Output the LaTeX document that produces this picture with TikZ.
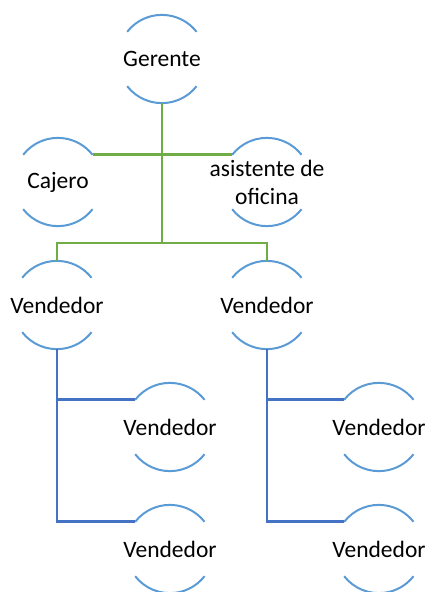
\documentclass[tikz,border=0pt]{standalone}
\usepackage{fontspec}
\setmainfont{Carlito}
\definecolor{arcblue}{HTML}{5B9BD5}
\definecolor{linegreen}{HTML}{70AD47}
\definecolor{lineblue}{HTML}{4472C4}
\tikzset{
  puesto/.style={circle, minimum size=88pt, inner sep=0pt,
    label={[font=\fontsize{23.5}{28}\selectfont, align=center]center:#1}},
  arco/.style={draw=arcblue, line width=2pt},
  verde/.style={draw=linegreen, line width=2.8pt},
  azul/.style={draw=lineblue, line width=2.6pt}}
\begin{document}
\begin{tikzpicture}[x=1pt, y=1pt]
  \useasboundingbox (0,0) rectangle (430,-592);
  % first level
  \node[puesto=Gerente] (ger) at (162,-59) {};
  \node[puesto=Cajero] (caj) at (58,-182) {};
  \node[puesto={asistente de\\oficina}] (asi) at (267,-182) {};
  \node[puesto=Vendedor] (ven1) at (57,-305) {};
  \node[puesto=Vendedor] (ven2) at (267,-305) {};
  % sellers under sellers
  \node[puesto=Vendedor] (ven11) at (170,-427) {};
  \node[puesto=Vendedor] (ven12) at (170,-549) {};
  \node[puesto=Vendedor] (ven21) at (379,-427) {};
  \node[puesto=Vendedor] (ven22) at (379,-549) {};
  % the two open arcs of every circle
  \foreach \n in {ger,caj,asi,ven1,ven2,ven11,ven12,ven21,ven22}
    \draw[arco] (\n.142) arc[start angle=142, end angle=38, radius=44pt]
                (\n.218) arc[start angle=218, end angle=322, radius=44pt];
  \coordinate (barra) at (162,-243);
  \draw[verde] (ger.south) -- (barra);
  \draw[verde] (caj.38) -- (asi.142);
  \draw[verde] (ven1.north) |- (barra) -| (ven2.north);
  \draw[azul] (ven1.south) |- (ven11.142);
  \draw[azul] (ven1.south) |- (ven12.142);
  \draw[azul] (ven2.south) |- (ven21.142);
  \draw[azul] (ven2.south) |- (ven22.142);
\end{tikzpicture}
\end{document}
